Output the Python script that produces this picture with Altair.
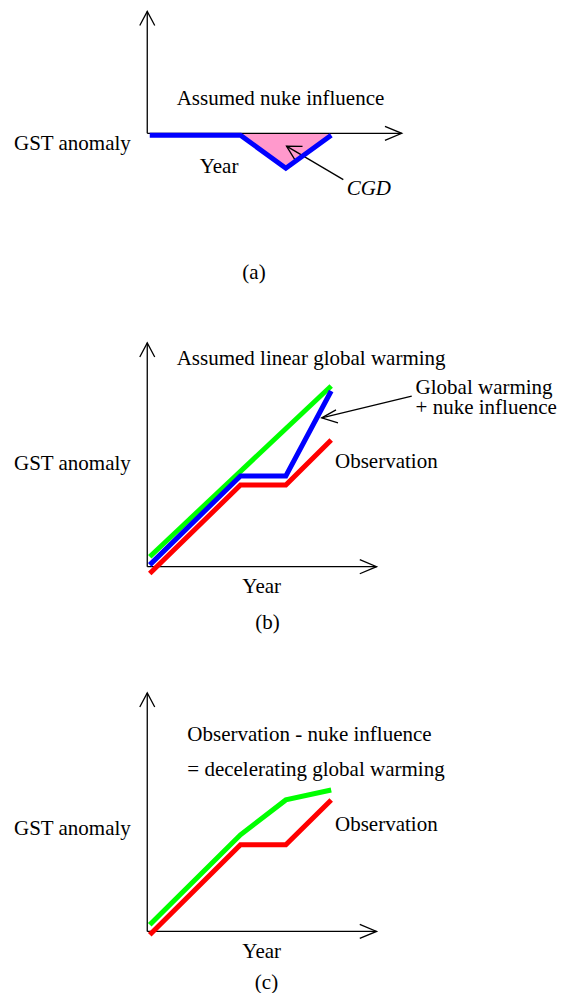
import altair as alt
import pandas as pd

# ---------------- data (schematic units: year index / anomaly units) ----------------
YEARS = [0, 2, 3, 4]
NUKE_A = [-0.04, -0.04, -0.77, -0.04]          # (a) assumed nuke influence
CGD_YEARS = [2, 3, 4]
CGD_A = [-0.04, -0.77, -0.04]                  # (a) shaded CGD region
LINEAR_YEARS = [0, 4]
LINEAR_B = [0.22, 3.98]                        # (b) assumed linear global warming
WARM_NUKE_B = [0.04, 2.0, 2.0, 3.87]           # (b) global warming + nuke influence
OBS_B = [-0.15, 1.8, 1.8, 2.79]                # (b) observation
DECEL_C = [0.145, 2.13, 2.90, 3.12]            # (c) decelerating global warming
OBS_C = [-0.075, 1.91, 1.91, 2.90]             # (c) observation

BLUE, RED, GREEN, PINK = "#0000FF", "#FF0000", "#00FF00", "#FF99CC"
FONT = "Liberation Serif, Times New Roman, DejaVu Serif, serif"
XDOM = [-3.125, 9.0]
AXIS_X = -0.055


def series_df(items):
    rows = []
    for sid, (xs, ys, col) in enumerate(items):
        for i, (x, y) in enumerate(zip(xs, ys)):
            rows.append({"sid": sid, "o": i, "t": x, "v": y, "color": col})
    return pd.DataFrame(rows)


def axes_df(y_top, x_tip):
    segs = [
        [(AXIS_X, 0.0), (AXIS_X, y_top)],
        [(AXIS_X - 0.165, y_top - 0.31), (AXIS_X, y_top), (AXIS_X + 0.165, y_top - 0.31)],
        [(AXIS_X, 0.0), (x_tip, 0.0)],
        [(x_tip - 0.37, 0.155), (x_tip, 0.0), (x_tip - 0.37, -0.155)],
    ]
    return segs


def pointer_segs(tail, tip, w1, w2):
    return [[tail, tip], [w1, tip, w2]]


def segs_df(segs):
    rows = []
    for sid, seg in enumerate(segs):
        for i, (x, y) in enumerate(seg):
            rows.append({"sid": sid, "o": i, "t": x, "v": y})
    return pd.DataFrame(rows)


def panel(height, ydom, lines, segs, texts, area=None):
    X = alt.X("t:Q", scale=alt.Scale(domain=XDOM, nice=False, zero=False), axis=None)
    Y = alt.Y("v:Q", scale=alt.Scale(domain=ydom, nice=False, zero=False), axis=None)
    layers = []
    if area is not None:
        layers.append(
            alt.Chart(area).mark_area(color=PINK, opacity=1).encode(
                x=X, y=Y, y2=alt.Y2("v2:Q")
            )
        )
    layers.append(
        alt.Chart(segs_df(segs)).mark_line(color="black", strokeWidth=1.3).encode(
            x=X, y=Y, detail="sid:N", order="o:Q"
        )
    )
    layers.append(
        alt.Chart(series_df(lines)).mark_line(strokeWidth=5).encode(
            x=X, y=Y, detail="sid:N", order="o:Q",
            color=alt.Color("color:N", scale=None),
        )
    )
    tdf = pd.DataFrame(texts, columns=["label", "t", "v", "align", "style"])
    for (align, style), g in tdf.groupby(["align", "style"]):
        layers.append(
            alt.Chart(g).mark_text(
                align=align, baseline="alphabetic", font=FONT, fontSize=21,
                fontStyle=style, color="black", lineBreak="\n", lineHeight=20,
            ).encode(x=X, y=Y, text="label:N")
        )
    return alt.layer(*layers).properties(width=550, height=height)


# ---------------- panel (a) ----------------
area_a = pd.DataFrame({"t": CGD_YEARS, "v": CGD_A, "v2": [0, 0, 0]})
segs_a = axes_df(2.69, 5.555) + pointer_segs(
    (4.267, -1.02), (3.015, -0.282), (3.368, -0.287), (3.202, -0.584)
)
texts_a = [
    ("Assumed nuke influence", 0.594, 0.635, "left", "normal"),
    ("Year", 1.527, -0.87, "center", "normal"),
    ("CGD", 4.83, -1.35, "center", "italic"),
    ("GST anomaly", -2.993, -0.37, "left", "normal"),
    ("(a)", 2.298, -3.22, "center", "normal"),
]
pa = panel(281, [-3.5, 2.7], [(YEARS, NUKE_A, BLUE)], segs_a, texts_a, area=area_a)

# ---------------- panel (b) ----------------
segs_b = axes_df(4.93, 5.0) + pointer_segs(
    (5.775, 3.757), (3.791, 3.279), (4.106, 3.455), (4.150, 3.168)
)
texts_b = [
    ("Assumed linear global warming", 0.594, 4.45, "left", "normal"),
    ("Global warming\n+ nuke influence", 5.86, 3.80, "left", "normal"),
    ("Observation", 4.084, 2.176, "left", "normal"),
    ("GST anomaly", -2.993, 2.125, "left", "normal"),
    ("Year", 2.468, -0.58, "center", "normal"),
    ("(b)", 2.596, -1.373, "center", "normal"),
]
pb = panel(
    361, [-1.9, 6.05],
    [(LINEAR_YEARS, LINEAR_B, GREEN), (YEARS, WARM_NUKE_B, BLUE), (YEARS, OBS_B, RED)],
    segs_b, texts_b,
)

# ---------------- panel (c) ----------------
segs_c = axes_df(5.26, 5.0)
texts_c = [
    ("Observation - nuke influence", 0.828, 4.19, "left", "normal"),
    ("= decelerating global warming", 0.828, 3.42, "left", "normal"),
    ("Observation", 4.084, 2.207, "left", "normal"),
    ("GST anomaly", -2.993, 2.12, "left", "normal"),
    ("Year", 2.468, -0.586, "center", "normal"),
    ("(c)", 2.574, -1.27, "center", "normal"),
]
pc = panel(
    336, [-1.27, 6.14],
    [(YEARS, DECEL_C, GREEN), (YEARS, OBS_C, RED)],
    segs_c, texts_c,
)

chart = (
    alt.vconcat(pa, pb, pc, spacing=0, bounds="flush")
    .properties(padding=0, background="white")
    .configure_view(stroke=None)
)

chart.save("out.html", embed_options={"renderer": "svg", "actions": False})
